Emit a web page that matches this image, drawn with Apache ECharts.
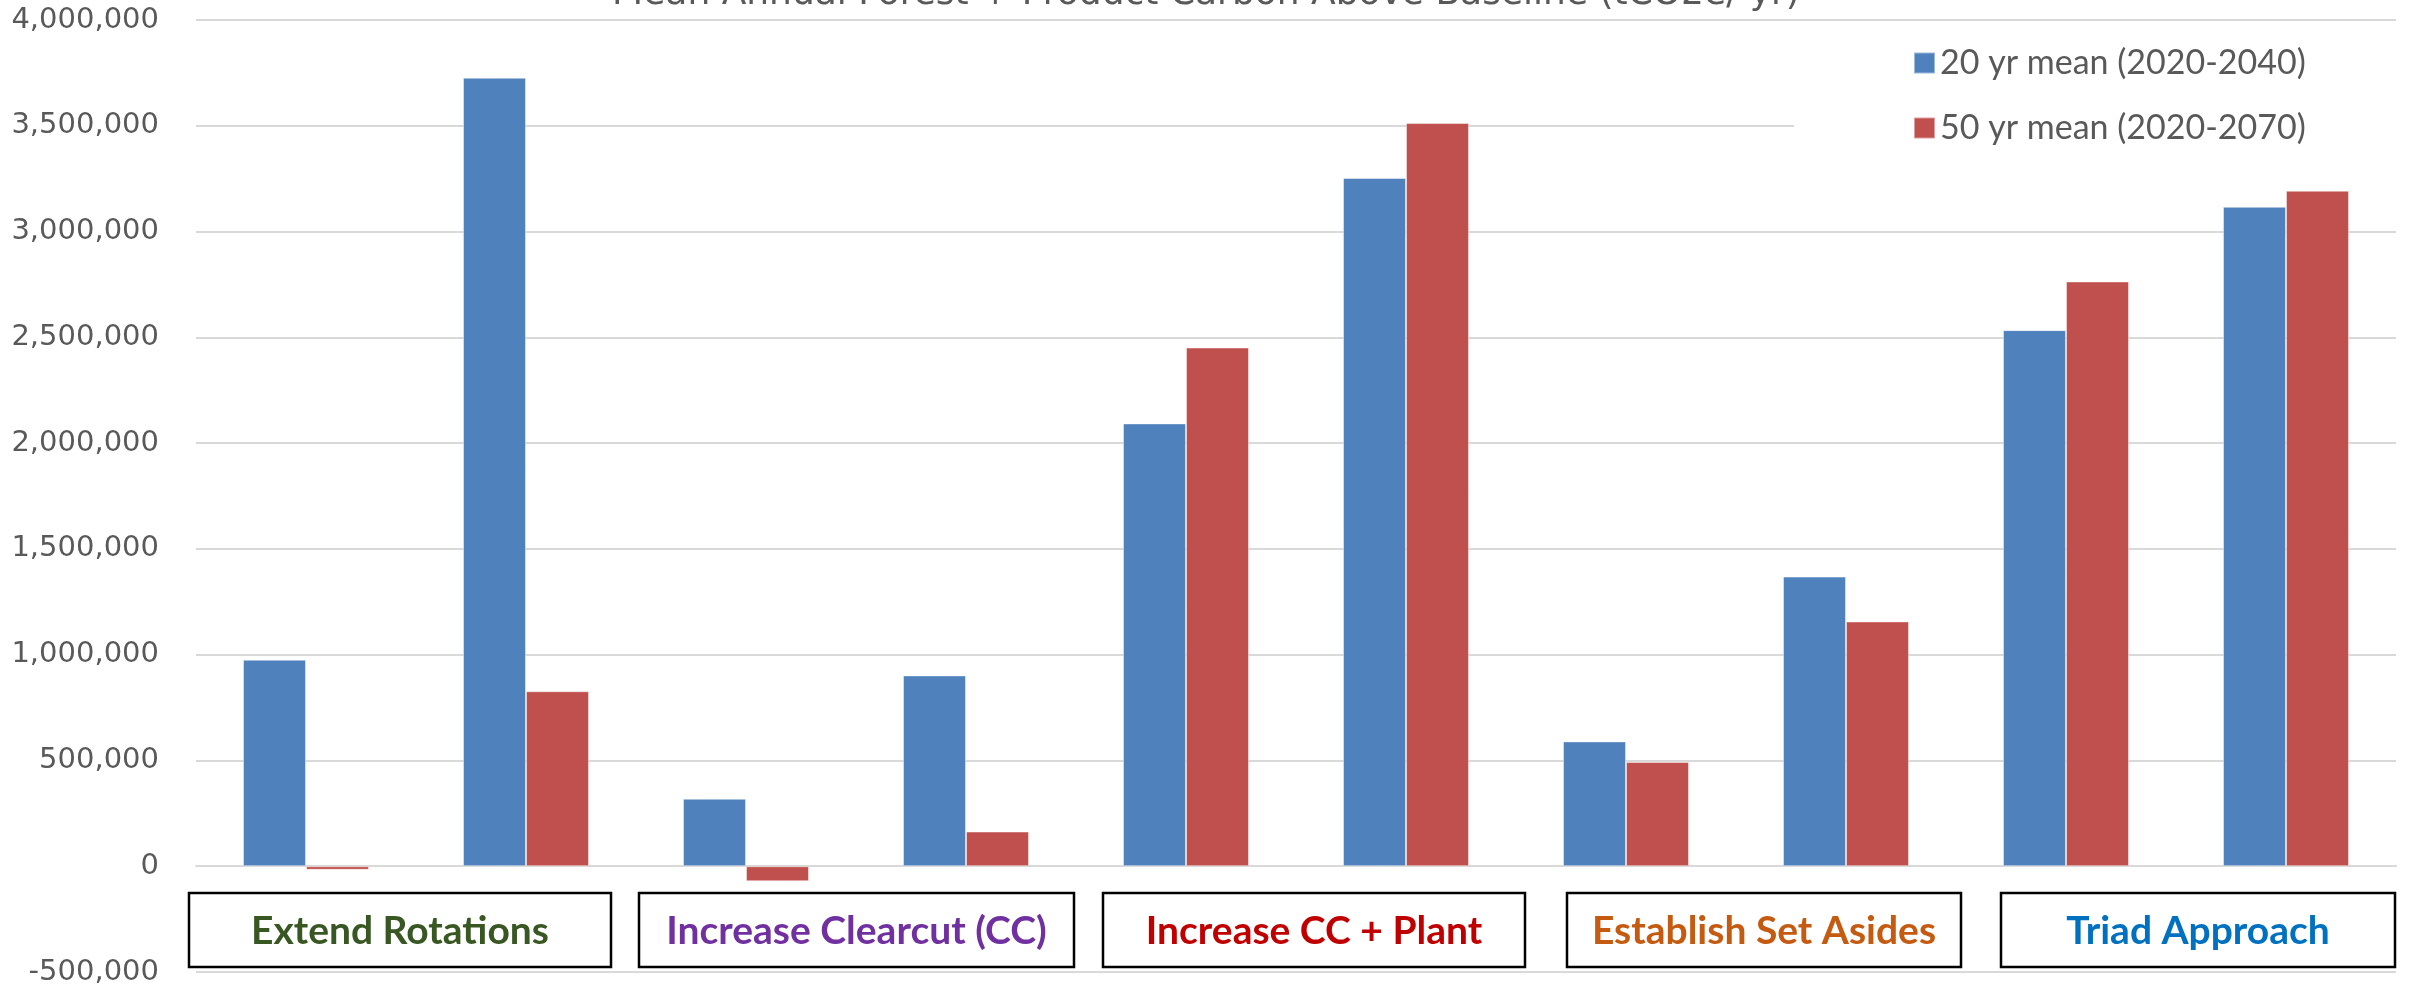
<!DOCTYPE html>
<html>
<head>
<meta charset="utf-8">
<script src="https://cdn.jsdelivr.net/npm/echarts@6/dist/echarts.min.js"></script>
<style>
  html, body { margin: 0; padding: 0; background: #ffffff; }
  #chart { width: 2415px; height: 993px; }
</style>
</head>
<body>
<div id="chart"></div>
<script>
// Ten scenarios, two per management strategy
const scenarios = [
  'Extend Rotations A', 'Extend Rotations B',
  'Increase Clearcut A', 'Increase Clearcut B',
  'Increase CC + Plant A', 'Increase CC + Plant B',
  'Establish Set Asides A', 'Establish Set Asides B',
  'Triad Approach A', 'Triad Approach B'
];

// Strategy group labels and their text colours
const groupLabels = ['Extend Rotations', 'Increase Clearcut (CC)', 'Increase CC + Plant', 'Establish Set Asides', 'Triad Approach'];
const groupColors = ['#385723', '#7030A0', '#C00000', '#C55A11', '#0070C0'];

// Mean annual forest + product carbon above baseline (tCO2e/yr)
const seriesNames = ['20 yr mean (2020-2040)', '50 yr mean (2020-2070)'];
const mean20yr = [976000, 3727000, 319000, 902000, 2093000, 3253000, 590000, 1369000, 2534000, 3117000];
const mean50yr = [-17000, 827000, -71000, 164000, 2452000, 3513000, 493000, 1157000, 2764000, 3193000];

// Value axis range and step
const yMin = -500000;
const yMax = 4000000;
const yStep = 500000;

const chartTitle = 'Mean Annual Forest + Product Carbon Above Baseline (tCO2e/ yr)';

// Pixel layout of the boxed strategy labels under the plot
const boxSpans = [[189, 611], [639, 1074], [1103, 1525], [1567, 1961], [2001, 2395]];
const boxTop = 893;
const boxHeight = 74;

const chart = echarts.init(document.getElementById('chart'), null, { renderer: 'canvas' });

const labelBoxes = groupLabels.map((label, i) => {
  const [x0, x1] = boxSpans[i];
  return {
    type: 'group',
    z: 10,
    children: [
      {
        type: 'rect',
        shape: { x: x0, y: boxTop, width: x1 - x0, height: boxHeight },
        style: { fill: '#ffffff', stroke: '#000000', lineWidth: 2.5 }
      },
      {
        type: 'text',
        style: {
          text: label,
          x: (x0 + x1) / 2,
          y: boxTop + boxHeight / 2 + 1,
          align: 'center',
          verticalAlign: 'middle',
          fill: groupColors[i],
          fontFamily: 'Lato',
          fontWeight: 'bold',
          fontSize: 39
        }
      }
    ]
  };
});

const option = {
  animation: false,
  backgroundColor: '#ffffff',
  title: {
    text: chartTitle,
    left: 1201,
    textAlign: 'center',
    top: -28,
    padding: 5,
    textStyle: {
      fontFamily: 'DejaVu Sans',
      fontWeight: 'normal',
      fontSize: 36,
      lineHeight: 36,
      color: '#595959'
    }
  },
  legend: {
    orient: 'vertical',
    left: 1794,
    top: 23,
    padding: [20, 120, 6, 119],
    backgroundColor: '#ffffff',
    itemWidth: 21,
    itemHeight: 21,
    itemGap: 25,
    icon: 'rect',
    textStyle: {
      fontFamily: 'Lato',
      fontSize: 34,
      lineHeight: 40,
      color: '#595959',
      padding: [0, 0, 0, 0]
    },
    data: seriesNames
  },
  grid: {
    left: 196,
    right: 19,
    top: 20,
    bottom: 21,
    containLabel: false
  },
  xAxis: {
    type: 'category',
    data: scenarios,
    axisLine: { onZero: true, lineStyle: { color: '#d9d9d9', width: 2 } },
    axisTick: { show: false },
    axisLabel: { show: false },
    splitLine: { show: false }
  },
  yAxis: {
    type: 'value',
    min: yMin,
    max: yMax,
    interval: yStep,
    axisLine: { show: false },
    axisTick: { show: false },
    axisLabel: {
      margin: 37,
      fontFamily: 'DejaVu Sans',
      fontSize: 29,
      color: '#595959',
      formatter: v => v.toLocaleString('en-US')
    },
    splitLine: { lineStyle: { color: '#d9d9d9', width: 2 } }
  },
  series: [
    {
      name: seriesNames[0],
      type: 'bar',
      data: mean20yr,
      barWidth: 63,
      barGap: '0%',
      itemStyle: { color: '#4F81BD', borderColor: 'rgba(255,255,255,0.45)', borderWidth: 1 }
    },
    {
      name: seriesNames[1],
      type: 'bar',
      data: mean50yr,
      barWidth: 63,
      barGap: '0%',
      itemStyle: { color: '#C0504D', borderColor: 'rgba(255,255,255,0.45)', borderWidth: 1 }
    }
  ],
  graphic: labelBoxes
};

chart.setOption(option);
</script>
</body>
</html>
